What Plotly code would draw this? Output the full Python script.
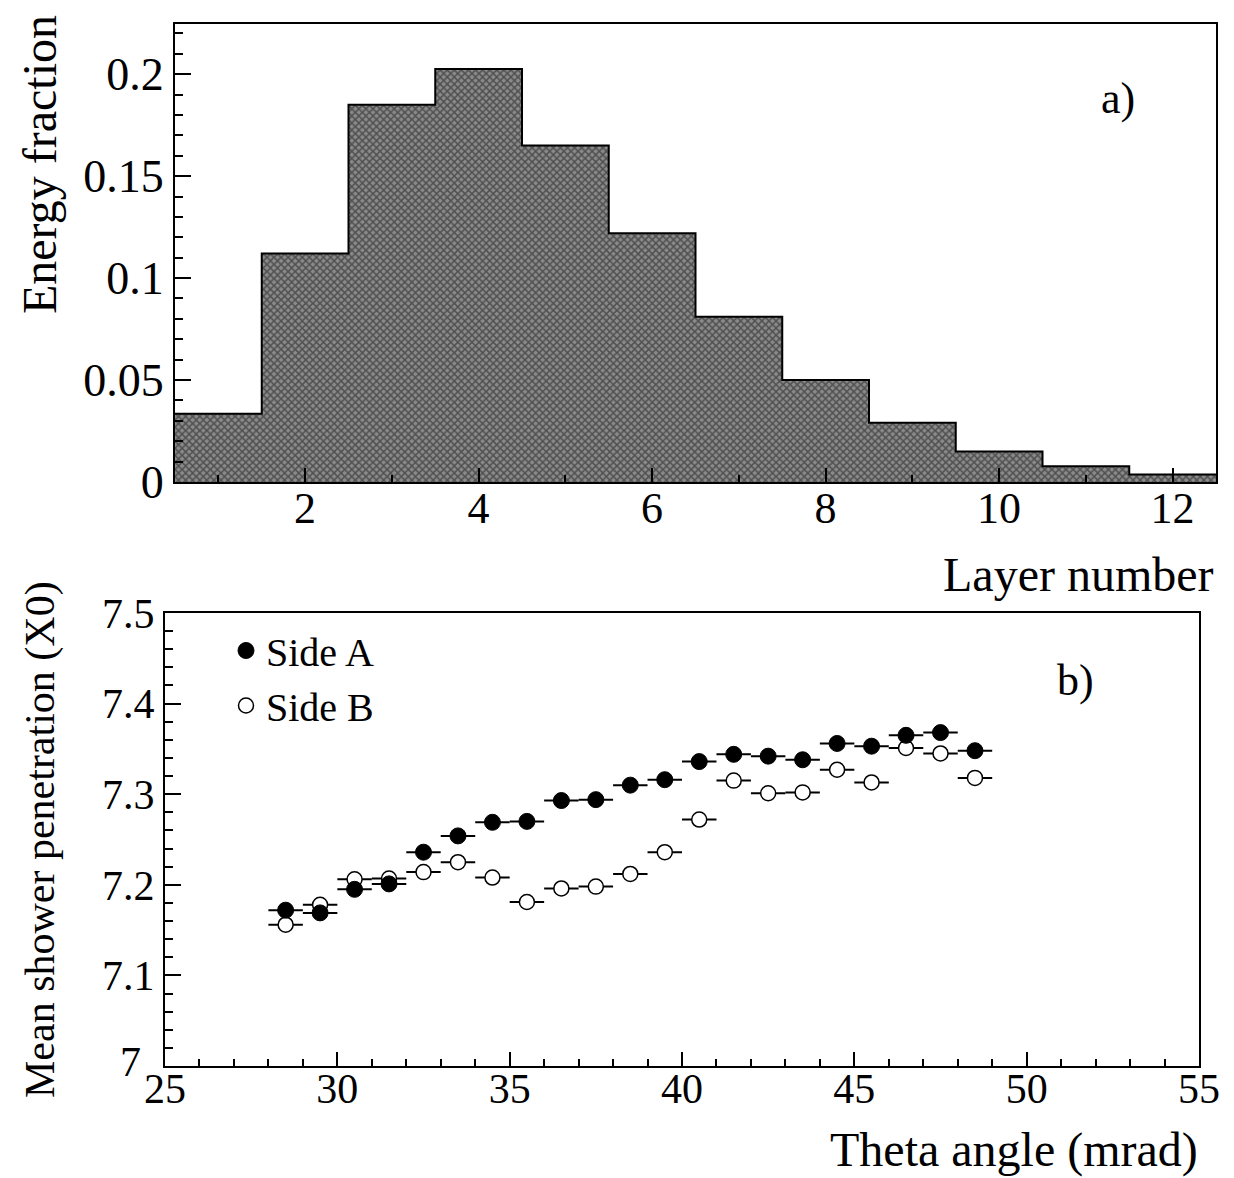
import plotly.graph_objects as go

# ---- Panel a: energy fraction per layer ----
layers = [1, 2, 3, 4, 5, 6, 7, 8, 9, 10, 11, 12]
energy_fraction = [0.0335, 0.112, 0.185, 0.2025, 0.165, 0.122, 0.081, 0.050,
                   0.029, 0.015, 0.0077, 0.0037]

# ---- Panel b: mean shower penetration vs theta ----
theta = [28.5, 29.5, 30.5, 31.5, 32.5, 33.5, 34.5, 35.5, 36.5, 37.5, 38.5,
         39.5, 40.5, 41.5, 42.5, 43.5, 44.5, 45.5, 46.5, 47.5, 48.5]
theta_err = [0.5] * len(theta)
side_a = [7.172, 7.169, 7.195, 7.201, 7.236, 7.254, 7.269, 7.270, 7.293, 7.294,
          7.310, 7.316, 7.336, 7.344, 7.342, 7.338, 7.356, 7.353, 7.365, 7.368, 7.348]
side_b = [7.156, 7.178, 7.206, 7.207, 7.214, 7.225, 7.208, 7.181, 7.196, 7.198,
          7.212, 7.236, 7.272, 7.315, 7.301, 7.302, 7.327, 7.313, 7.351, 7.345, 7.318]

# tick labels
ya_ticks = [0, 0.05, 0.1, 0.15, 0.2]
ya_text = ["0", "0.05", "0.1", "0.15", "0.2"]
yb_ticks = [7.1, 7.2, 7.3, 7.4, 7.5]
yb_text = ["7.1", "7.2", "7.3", "7.4", "7.5"]
yb_origin = 7
yb_origin_text = "7"

FONT = "Liberation Serif, Times New Roman, serif"
W, H = 1234, 1178

def px_x(p):
    return p / W

def px_y(p):
    return 1 - p / H

fig = go.Figure()

# histogram fill
fig.add_trace(go.Bar(
    x=layers, y=energy_fraction, width=1.0,
    marker=dict(color="#6e6e6e", line=dict(width=0),
                pattern=dict(shape="x", fgcolor="#151515", bgcolor="#8a8a8a",
                             size=5, solidity=0.5)),
    xaxis="x", yaxis="y", showlegend=False, hoverinfo="skip"))

# histogram outline (step)
edges = [l - 0.5 for l in layers] + [layers[-1] + 0.5]
step_y = energy_fraction + [energy_fraction[-1]]
fig.add_trace(go.Scatter(
    x=edges, y=step_y, mode="lines", line=dict(color="black", width=2, shape="hv"),
    xaxis="x", yaxis="y", showlegend=False, hoverinfo="skip"))

# Side B (open) drawn first, Side A on top
fig.add_trace(go.Scatter(
    x=theta, y=side_b, mode="markers", name="Side B",
    error_x=dict(type="data", array=theta_err, visible=True, color="black",
                 thickness=2, width=0),
    marker=dict(symbol="circle", size=15, color="white",
                line=dict(color="black", width=1.5)),
    xaxis="x2", yaxis="y2", legendrank=2))
fig.add_trace(go.Scatter(
    x=theta, y=side_a, mode="markers", name="Side A",
    error_x=dict(type="data", array=theta_err, visible=True, color="black",
                 thickness=2, width=0),
    marker=dict(symbol="circle", size=16, color="black",
                line=dict(color="black", width=1)),
    xaxis="x2", yaxis="y2", legendrank=1))

def axis_common(size, standoff=0):
    return dict(showline=True, linecolor="black", linewidth=2, mirror=True,
                ticks="inside", tickcolor="black", tickwidth=1.5,
                showgrid=False, zeroline=False, automargin=False,
                ticklabelstandoff=standoff,
                tickfont=dict(family=FONT, size=size, color="black"))

fig.update_layout(
    width=W, height=H, autosize=False,
    margin=dict(l=0, r=0, t=0, b=0, autoexpand=False),
    paper_bgcolor="white", plot_bgcolor="white",
    bargap=0,
    font=dict(family=FONT, color="black"),
    xaxis=dict(domain=[px_x(175), px_x(1216)], range=[0.5, 12.5],
               tickvals=[2, 4, 6, 8, 10, 12], ticklen=14,
               minor=dict(dtick=1, ticklen=7, ticks="inside", tickcolor="black"),
               anchor="y", **axis_common(44, -14)),
    yaxis=dict(domain=[px_y(482), px_y(24)], range=[0, 0.2246],
               tickvals=ya_ticks, ticktext=ya_text, ticklen=16,
               minor=dict(dtick=0.01, ticklen=8, ticks="inside", tickcolor="black"),
               anchor="x", **axis_common(46)),
    xaxis2=dict(domain=[px_x(165), px_x(1199)], range=[25, 55],
                dtick=5, ticklen=14,
                minor=dict(dtick=1, ticklen=7, ticks="inside", tickcolor="black"),
                anchor="y2", **axis_common(42, -15)),
    yaxis2=dict(domain=[px_y(1066), px_y(613)], range=[7, 7.5],
                tickvals=yb_ticks, ticktext=yb_text, ticklen=16,
                minor=dict(dtick=0.02, ticklen=8, ticks="inside", tickcolor="black"),
                anchor="x2", **axis_common(42, 0)),
    legend=dict(x=px_x(226), y=px_y(618), xanchor="left", yanchor="top",
                bgcolor="rgba(0,0,0,0)", borderwidth=0,
                font=dict(family=FONT, size=40, color="black"),
                itemsizing="trace", tracegroupgap=0),
    annotations=[
        dict(text=yb_origin_text, x=px_x(143), y=yb_origin, xref="paper", yref="y2",
             showarrow=False, xanchor="right", yanchor="middle", yshift=4,
             font=dict(family=FONT, size=42, color="black")),
        dict(text="Energy fraction", x=px_x(40), y=px_y(165), xref="paper", yref="paper",
             textangle=-90, showarrow=False, xanchor="center", yanchor="middle",
             font=dict(family=FONT, size=48, color="black")),
        dict(text="Layer number", x=px_x(1216), y=px_y(574), xref="paper", yref="paper",
             showarrow=False, xanchor="right", yanchor="middle",
             font=dict(family=FONT, size=48, color="black")),
        dict(text="Mean shower penetration (X0)", x=px_x(40), y=px_y(840),
             xref="paper", yref="paper", textangle=-90, showarrow=False,
             xanchor="center", yanchor="middle",
             font=dict(family=FONT, size=42, color="black")),
        dict(text="Theta angle (mrad)", x=px_x(1200), y=px_y(1150), xref="paper", yref="paper",
             showarrow=False, xanchor="right", yanchor="middle",
             font=dict(family=FONT, size=48, color="black")),
        dict(text="a)", x=px_x(1118), y=px_y(98), xref="paper", yref="paper",
             showarrow=False, xanchor="center", yanchor="middle",
             font=dict(family=FONT, size=44, color="black")),
        dict(text="b)", x=px_x(1075), y=px_y(680), xref="paper", yref="paper",
             showarrow=False, xanchor="center", yanchor="middle",
             font=dict(family=FONT, size=44, color="black")),
    ],
)

fig.write_html("out.html", config={"displayModeBar": False},
               post_script="document.body.style.margin='0';")
